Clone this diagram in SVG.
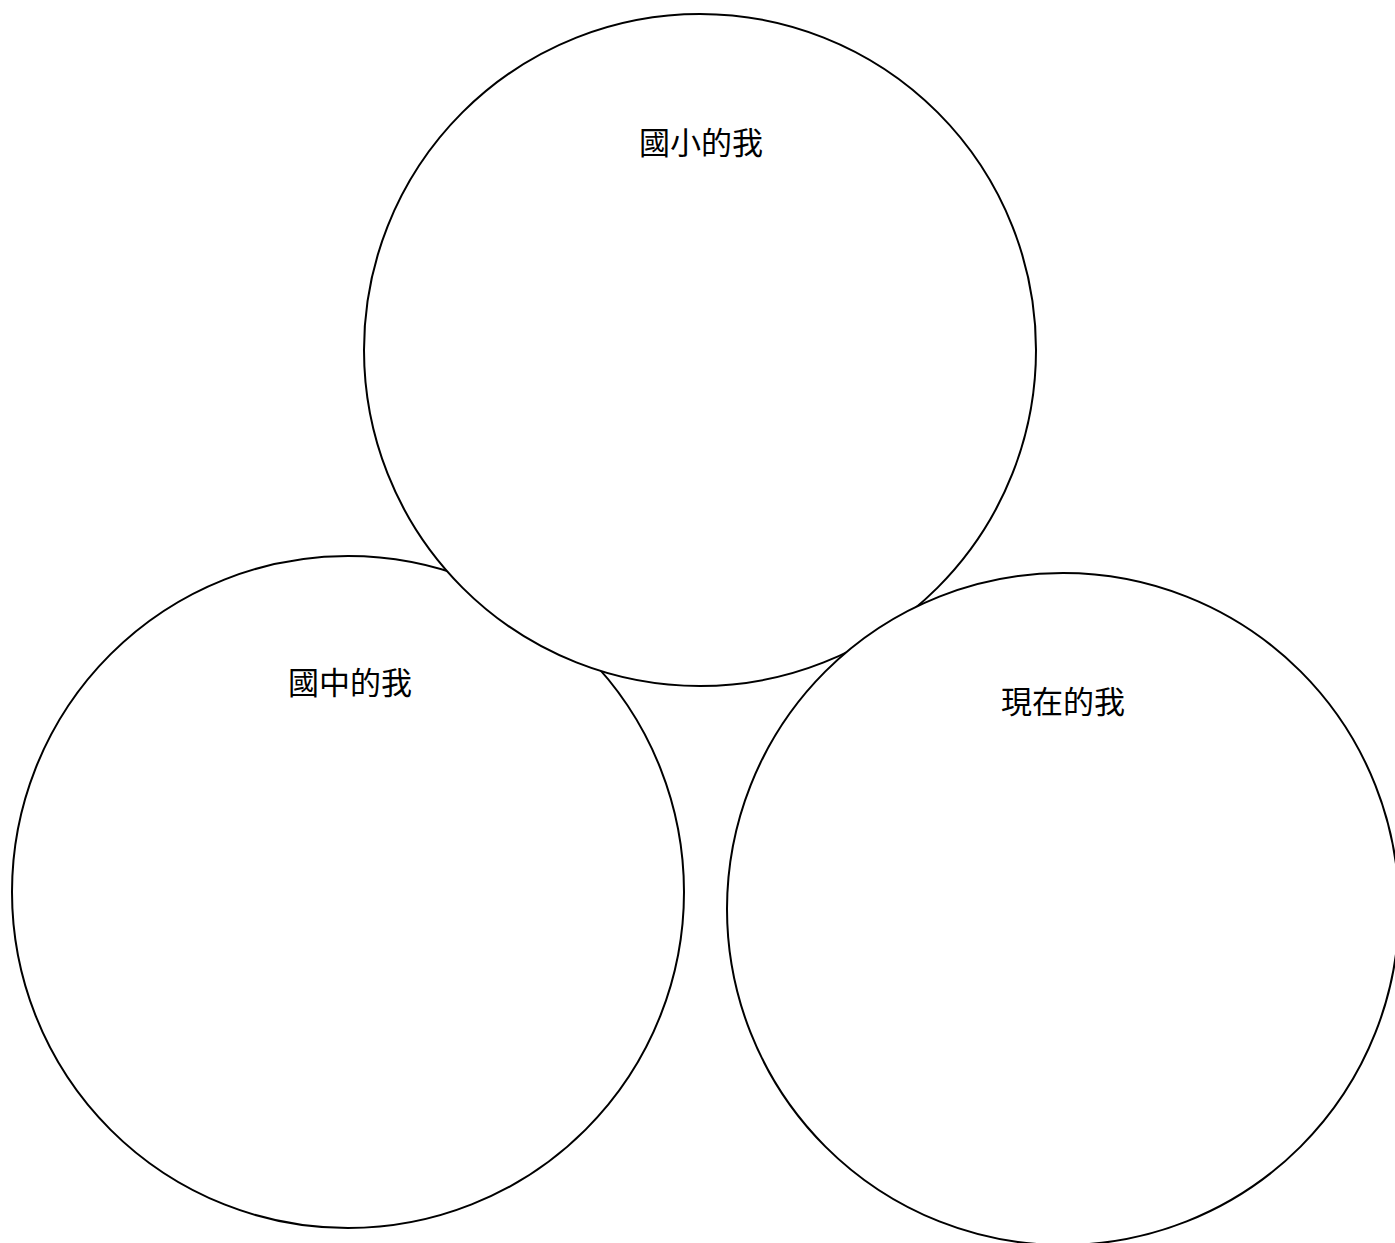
<svg xmlns="http://www.w3.org/2000/svg" width="1395" height="1243" viewBox="0 0 1395 1243">
<style>
.c{fill:#fff;stroke:#000;stroke-width:2}
.t{font-family:"Noto Sans CJK TC","Noto Sans CJK SC",sans-serif;font-size:31px;fill:#000;text-anchor:middle}
</style>
<rect width="1395" height="1243" fill="#fff"/>
<g id="junior">
<circle class="c" cx="348" cy="892" r="336"/>
<text class="t" x="350" y="694">國中的我</text>
</g>
<g id="elementary">
<circle class="c" cx="700" cy="350" r="336"/>
<text class="t" x="701" y="154">國小的我</text>
</g>
<g id="now">
<circle class="c" cx="1063" cy="909" r="336"/>
<text class="t" x="1063" y="713">現在的我</text>
</g>
<g id="connectors"></g>
</svg>
